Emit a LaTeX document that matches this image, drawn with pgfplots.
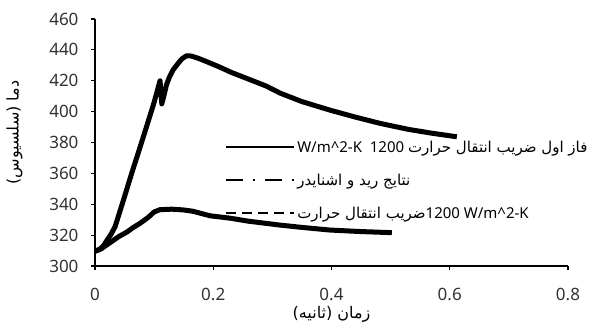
\documentclass[border=0pt]{standalone}
\usepackage{fontspec}
\usepackage{pgfplots}
\pgfplotsset{compat=1.18}
\setmainfont{Noto Sans}
\newfontfamily\arabicfont[Script=Arabic]{DejaVu Sans}
\TeXXeTstate=1
\begin{document}
\begin{tikzpicture}
\begin{axis}[
  scale only axis, width=473pt, height=247pt,
  xmin=0, xmax=0.8, ymin=300, ymax=460,
  xtick={0,0.2,0.4,0.6,0.8}, ytick={300,320,...,460},
  axis x line*=bottom, axis y line*=left,
  axis line style={line width=1.2pt, black},
  tick align=outside, major tick length=4pt,
  tick style={line width=1.2pt, black},
  /pgf/number format/assume math mode=true,
  /pgf/number format/fixed,
  ticklabel style={font=\fontsize{17}{19}\selectfont, text=black!80},
  xticklabel style={yshift=-15pt},
  yticklabel style={xshift=-9pt},
  xlabel={\arabicfont\beginR زمان (ثانیه)\endR},
  xlabel style={font=\fontsize{16}{18}\selectfont, yshift=2pt},
  ylabel={\arabicfont\beginR دما (سلسیوس)\endR},
  ylabel style={font=\fontsize{16}{18}\selectfont, yshift=20pt, xshift=10pt},
  legend image code/.code={\draw[#1] (0pt,0pt) -- (68pt,0pt);},
  legend style={draw=none, fill=none, at={(0.275,0.515)}, anchor=north west,
    font=\fontsize{15}{17}\selectfont, row sep=16pt, inner sep=0pt},
  legend cell align=left,
]
\addplot[black, line width=5pt, line join=round, forget plot] coordinates {
(0,310)(0.005,310.3)(0.01,311.5)(0.015,313.5)(0.02,316.5)(0.027,320.5)(0.034,325.5)
(0.05,345)(0.062,360)(0.075,375.5)(0.087,390)(0.1,406)(0.11,420)(0.113,405)
(0.117,411)(0.121,417.5)(0.126,422.5)(0.132,427)(0.14,431)(0.147,434.2)(0.155,436.2)
(0.163,436)(0.175,434.5)(0.19,432.2)(0.21,429)(0.23,425.5)(0.26,421)(0.29,416.5)
(0.313,412)(0.35,406.5)(0.397,401)(0.44,396.5)(0.482,392.4)(0.53,388.5)(0.57,386)(0.612,383.7)
};
\addplot[black, line width=5pt, line join=round, forget plot] coordinates {
(0,309.5)(0.01,311)(0.025,315)(0.04,319)(0.054,322)(0.065,325)(0.076,327.6)
(0.09,331.5)(0.1,335)(0.11,336.5)(0.13,336.8)(0.15,336.3)(0.165,335.5)(0.18,334)
(0.195,332.5)(0.228,331)(0.26,329)(0.313,326.5)(0.35,325)(0.397,323.3)(0.45,322.3)(0.502,321.6)
};
\addlegendimage{black, line width=2pt}
\addlegendentry{W/m\^{}2-K\ \ \textbf{1200} {\arabicfont\beginR فاز اول ضریب انتقال حرارت\endR}}
\addlegendimage{black, line width=2pt, dash pattern=on 17pt off 10pt on 2pt off 10pt}
\addlegendentry{{\arabicfont\beginR نتایج رید و اشنایدر\endR}}
\addlegendimage{black, line width=2pt, dash pattern=on 10pt off 6pt}
\addlegendentry{{\arabicfont\beginR ضریب انتقال حرارت\endR}1200 W/m\^{}2-K}
\end{axis}
\pgfresetboundingbox
\path (current axis.south west) ++(-95pt,-63pt) rectangle (current axis.north east);
\path (current axis.north east) ++(32pt,19pt);
\end{tikzpicture}
\end{document}
